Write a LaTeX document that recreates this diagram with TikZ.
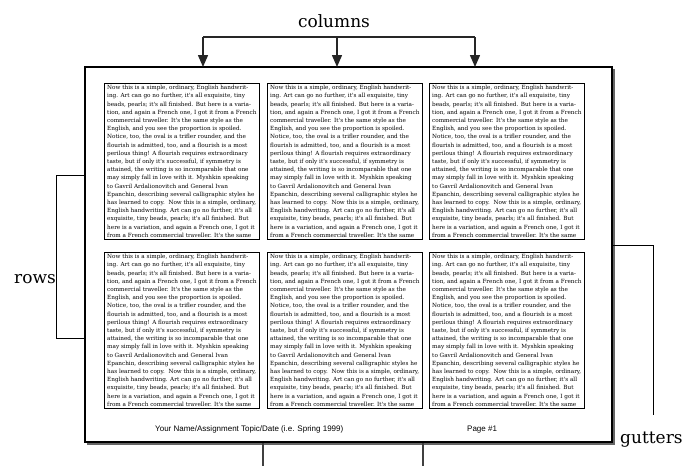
\documentclass[tikz,border=0pt]{standalone}
\usepackage{fontspec}
\setmainfont{DejaVu Serif}
\newfontfamily\bodyfont{DejaVu Serif}
\newfontfamily\footfont{Liberation Sans}
\usetikzlibrary{arrows.meta,shadows}

\newcommand{\bodytxt}{Now this is a simple, ordinary, English handwrit-\\
ing. Art can go no further, it's all exquisite, tiny\\
beads, pearls; it's all finished. But here is a varia-\\
tion, and again a French one, I got it from a French\\
commercial traveller. It's the same style as the\\
English, and you see the proportion is spoiled.\\
Notice, too, the oval is a trifler rounder, and the\\
flourish is admitted, too, and a flourish is a most\\
perilous thing! A flourish requires extraordinary\\
taste, but if only it's successful, if symmetry is\\
attained, the writing is so incomparable that one\\
may simply fall in love with it. Myshkin speaking\\
to Gavril Ardalionovitch and General Ivan\\
Epanchin, describing several calligraphic styles he\\
has learned to copy.\ \ Now this is a simple, ordinary,\\
English handwriting. Art can go no further, it's all\\
exquisite, tiny beads, pearls; it's all finished. But\\
here is a variation, and again a French one, I got it\\
from a French commercial traveller. It's the same}

\tikzset{
  pageframe/.style={draw=black, line width=2pt, fill=white, minimum width=527pt, minimum height=375pt, inner sep=0pt},
  textbox/.style={draw=black, line width=0.7pt, fill=white, anchor=north west, minimum width=155pt, minimum height=156pt, inner sep=1.5pt, align=left, font=\bodyfont\fontsize{5.7}{8.2}\selectfont, drop shadow={shadow xshift=1pt, shadow yshift=-1pt, opacity=1, fill=gray!70}},
  biglbl/.style={font=\fontsize{17}{20}\selectfont, inner sep=0pt},
  footlbl/.style={font=\footfont\fontsize{8}{10}\selectfont, inner sep=0pt, anchor=base west},
  colconn/.style={draw=black!85, line width=1.5pt},
  colarrow/.style={draw=black!85, line width=1.5pt, -{Triangle[width=10pt,length=12pt]}},
  thinconn/.style={draw=black, line width=1pt},
  gutline/.style={draw=black!75, line width=1.5pt}
}

\begin{document}
\begin{tikzpicture}[x=1pt,y=-1pt]
\useasboundingbox (0,0) rectangle (696,466);
% page frame with shadow
\fill[black!60] (87,69) rectangle (614.5,444.5);
\node[pageframe] (page) at (348.5,254.5) {};

% text boxes
\node[textbox] (b11) at (104,83) {\bodytxt};
\node[textbox] (b12) at (267,83) {\bodytxt};
\node[textbox] (b13) at (429,83) {\bodytxt};
\node[textbox] (b21) at (104,252) {\bodytxt};
\node[textbox] (b22) at (267,252) {\bodytxt};
\node[textbox] (b23) at (429,252) {\bodytxt};

% footer
\node[footlbl] (foot) at (155,431.5) {Your Name/Assignment Topic/Date (i.e. Spring 1999)};
\node[footlbl] (pnum) at (467,431.5) {Page \#1};

% columns
\node[biglbl, anchor=base] (colL) at (334,27) {columns};
\coordinate (cb1) at (203,37);
\coordinate (cb2) at (337,37);
\coordinate (cb3) at (475,37);
\coordinate (ct1) at (203,67);
\coordinate (ct2) at (337,67);
\coordinate (ct3) at (475,67);
\draw[colconn] (cb1) -- (cb3);
\draw[colarrow] (cb1) -- (ct1);
\draw[colarrow] (cb2) -- (ct2);
\draw[colarrow] (cb3) -- (ct3);

% rows
\node[biglbl, anchor=base west] (rowL) at (14,283) {rows};
\coordinate (r1) at (85,175.5);
\coordinate (r2) at (56,175.5);
\coordinate (r3) at (56,338);
\coordinate (r4) at (85,338);
\draw[thinconn] (r1) -- (r2) -- (r3) -- (r4);

% gutters
\node[biglbl, anchor=base west] (gutL) at (620,443) {gutters};
\coordinate (g1) at (613,245.5);
\coordinate (g2) at (653.5,245.5);
\coordinate (g3) at (653.5,415);
\draw[thinconn] (g1) -- (g2) -- (g3);
\coordinate (gb1) at (263,443);
\coordinate (gb2) at (263,466);
\coordinate (gb3) at (423,443);
\coordinate (gb4) at (423,466);
\draw[gutline] (gb1) -- (gb2);
\draw[gutline] (gb3) -- (gb4);
\end{tikzpicture}
\end{document}
